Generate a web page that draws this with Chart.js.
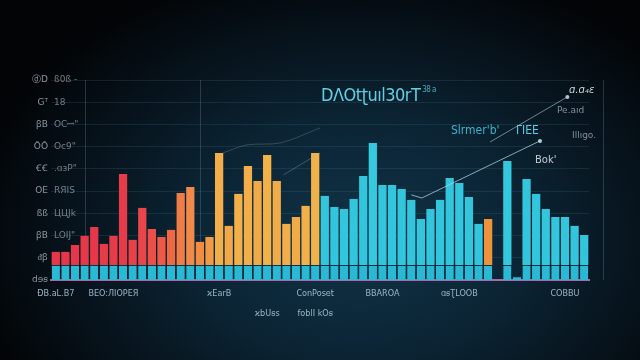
<!DOCTYPE html>
<html>
<head>
<meta charset="utf-8">
<script src="https://cdn.jsdelivr.net/npm/chart.js@4"></script>
<style>
  html,body{margin:0;padding:0;}
  body{width:640px;height:360px;overflow:hidden;
    background:radial-gradient(ellipse 62% 78% at 56% 66%, #103448 0%, #0b2434 42%, #07131c 72%, #020406 100%);
    font-family:"DejaVu Sans", sans-serif;}
  #wrap{position:relative;width:640px;height:360px;}
  canvas{position:absolute;left:0;top:0;}
  .t{position:absolute;white-space:nowrap;line-height:1;}
</style>
</head>
<body>
<div id="wrap">
  <canvas id="c" width="640" height="360"></canvas>
  <div class="t" style="left:321px;top:86px;font-family:'DejaVu Sans Condensed';font-size:18px;color:#63cfe2;letter-spacing:-0.5px;">DΛOtʈuıl30rT<span style="font-size:8px;vertical-align:top;color:#4aa8bb;"> 38 a</span></div>
  <div class="t" style="left:451px;top:124px;font-size:12px;color:#3ab4cf;font-family:'DejaVu Sans Condensed';">Slrmer'b'</div>
  <div class="t" style="left:516px;top:124px;font-size:12px;color:#5ccde6;font-family:'DejaVu Sans Condensed';">ΓIEE</div>
  <div class="t" style="left:569px;top:85px;font-size:10px;color:#c9d2d9;font-style:italic;">ɑ.ɑ₄ɛ</div>
  <div class="t" style="left:557px;top:106px;font-size:9px;color:#7f909c;">Pe.aıd</div>
  <div class="t" style="left:572px;top:131px;font-size:9px;color:#7f909c;">Illıgo.</div>
  <div class="t" style="left:535px;top:155px;font-size:10px;color:#c3ccd3;">Bok'</div>
</div>
<script>
// ---- data ----
const categories = [
  'ÐB.aL.B7','','','','','','BEO:ЛIOPEЯ','','','',
  '','','','','','','','ϰEarB','','',
  '','','','','','','','ConPoset','','',
  '','','','','BBAROA','','','','','',
  '','','ɑꞩƮLOOB','','','','','','','',
  '','','','COBBU','',''
];
const secondRowLabels = ['', '', '', '', '', '', '', '', '', '',
  '', '', '', '', '', '', '', '', '', '',
  '', '', 'ϰbUꞩs', '', '', '', '', 'foblI kOꞩ', '', '',
  '', '', '', '', '', '', '', '', '', '',
  '', '', '', '', '', '', '', '', '', '',
  '', '', '', '', '', ''];
const baseValues = [
  6.75,6.75,6.75,6.75,6.75,6.75,6.75,6.75,6.75,6.75,
  6.75,6.75,6.75,6.75,6.75,6.75,6.75,6.75,6.75,6.75,
  6.75,6.75,6.75,6.75,6.75,6.75,6.75,6.75,6.75,6.75,
  6.75,6.75,6.75,6.75,6.75,6.75,6.75,6.75,6.75,6.75,
  6.75,6.75,6.75,6.75,6.75,6.75,0,6.75,1.7,6.75,
  6.75,6.75,6.75,6.75,6.75,6.75
];
const topValues = [
  5.9,5.9,9.0,13.1,17.1,9.5,13.1,41.0,11.3,25.7,
  16.2,12.6,15.8,32.4,35.1,10.4,12.6,50.4,17.6,32.0,
  44.6,37.8,49.5,37.8,18.5,21.6,26.6,50.4,31.1,26.1,
  25.2,29.7,40.1,54.9,36.0,36.0,34.2,29.3,20.7,25.2,
  29.3,39.2,36.9,30.6,18.5,20.7,0,46.8,0,38.7,
  32.0,25.2,21.6,21.6,17.6,13.5
];
const leftTickLabels = ['dɘꞩ','ʆꞩ','ᵭꞵ','ꞅꞅ','ꞵB','ʊö','ßß','ꞵE','OE','ʘʘ','ꞒꞒ','ꞥꞩ','ŌŌ','ꞵ̈ö','ꞵB','ꟻꟷ','Gᵀ','ʝeꞩ','ⓓD','ЕBß'];
const innerTickLabels = ['','','LOIJ"','ЦЦJk','RЯIS','.ɑɜP"','Oc9"','OCꟷ"','18','ß0ß -'];
const trendA = [{x:37.0,y:38.3},{x:38.1,y:36.9},{x:50.4,y:62.6}];
const trendB = [{x:45.2,y:62.1},{x:53.25,y:82.4}];
const trendC = [{x:17.4,y:57.2},{x:19.9,y:60.8},{x:23.4,y:61.7},{x:27.5,y:68.4}];
const trendD = [{x:23.7,y:47.3},{x:27.5,y:57.2}];

// ---- styles ----
const topColors = [
  '#e6374a','#e6374a','#e6374a','#e6384a','#e6384a','#e63c4a','#e63c4a','#e63c4a','#e7414a','#e8464a',
  '#ea4f48','#ec5a46','#ee6844','#f07c46','#f08a48','#f28c42','#f09a46','#f2ae4a','#f0a848','#f2b04a',
  '#f2ae4a','#f0aa48','#f2b24a','#f0ac48','#f2ae4a','#f0aa48','#f2b04a','#f2b24a','#33c5dc','#33c5dc',
  '#33c5dc','#33c5dc','#33c5dc','#35c8de','#33c5dc','#33c5dc','#33c5dc','#33c5dc','#33c5dc','#33c5dc',
  '#33c5dc','#33c5dc','#33c5dc','#33c5dc','#33c5dc','#f0923c','#33c5dc','#33c8de','#33c5dc','#33c5dc',
  '#33c5dc','#33c5dc','#33c5dc','#33c5dc','#33c5dc','#33c5dc'
];

const decoLines = {
  id:'decoLines',
  beforeDatasetsDraw(chart){
    const {ctx, chartArea} = chart;
    const xl = chart.scales.xl;
    ctx.save();
    ctx.strokeStyle = 'rgba(110,160,185,0.28)';
    ctx.lineWidth = 1;
    [3.0, 15.0, 57.0].forEach(v => {
      const px = Math.round(xl.getPixelForValue(v)) + 0.5;
      ctx.beginPath(); ctx.moveTo(px, chartArea.top); ctx.lineTo(px, chartArea.bottom); ctx.stroke();
    });
    ctx.restore();
  }
};

const barCommon = {type:'bar', barPercentage:0.86, categoryPercentage:1, grouped:false,
                   yAxisID:'y', xAxisID:'x', stack:'s', order:2};

new Chart(document.getElementById('c'), {
  data: {
    labels: categories.map((c,i) => secondRowLabels[i] ? [c, secondRowLabels[i]] : c),
    datasets: [
      Object.assign({}, barCommon, {data: baseValues, backgroundColor:'#2ab9d5', borderColor:'#0d3442',
       borderWidth:{top:1,left:0,right:0,bottom:0}, borderSkipped:false}),
      Object.assign({}, barCommon, {data: topValues, backgroundColor: topColors, borderWidth:0}),
      {type:'line', data: trendA, xAxisID:'xl', yAxisID:'y', stack:'a', borderColor:'rgba(175,215,232,0.75)', borderWidth:1,
       pointRadius:[0,0,2], pointBackgroundColor:'rgba(190,225,240,0.9)', pointBorderWidth:0, tension:0, order:1},
      {type:'line', data: trendB, xAxisID:'xl', yAxisID:'y', stack:'b', borderColor:'rgba(175,205,220,0.6)', borderWidth:1,
       pointRadius:[0,2], pointBackgroundColor:'rgba(190,215,230,0.9)', pointBorderWidth:0, tension:0, order:1},
      {type:'line', data: trendC, xAxisID:'xl', yAxisID:'y', stack:'c', borderColor:'rgba(150,165,175,0.3)', borderWidth:1,
       pointRadius:0, tension:0.3, order:1},
      {type:'line', data: trendD, xAxisID:'xl', yAxisID:'y', stack:'d', borderColor:'rgba(160,180,190,0.35)', borderWidth:1,
       pointRadius:0, tension:0, order:1}
    ]
  },
  options: {
    responsive:false, animation:false,
    layout:{padding:{top:80, right:51, left:0, bottom:0}},
    plugins:{legend:{display:false}, tooltip:{enabled:false}},
    scales:{
      x:{type:'category', stacked:true, offset:true,
         grid:{display:false}, border:{display:true, color:'rgba(190,120,190,0.85)', width:2},
         ticks:{autoSkip:false, maxRotation:0, minRotation:0, padding:-4,
                color:'rgba(170,195,210,0.9)', font:{family:'DejaVu Sans Condensed', size:9, lineHeight:2.2}},
         afterFit:(s)=>{ s.height = 80; }},
      xl:{type:'linear', min:-0.5, max:55.5, display:false},
      y:{type:'linear', stacked:true, min:0, max:90, position:'left', weight:1,
         grid:{display:false, drawTicks:false}, border:{display:false},
         ticks:{stepSize:5, padding:3, color:'rgba(180,195,205,0.75)', font:{family:'DejaVu Sans', size:9},
                callback:(v)=> leftTickLabels[Math.round(v/5)] ?? ''},
         afterFit:(s)=>{ s.width = 51; }},
      y2:{type:'linear', min:0, max:90, position:'left', weight:0,
          grid:{display:true, drawTicks:false, color:'rgba(90,150,180,0.16)'}, border:{display:false},
          ticks:{stepSize:10, mirror:true, padding:3, color:'rgba(170,185,195,0.65)', font:{family:'DejaVu Sans', size:9},
                 callback:(v)=> innerTickLabels[Math.round(v/10)] ?? ''},
          afterFit:(s)=>{ s.width = 0; }}
    }
  },
  plugins:[decoLines]
});
</script>
</body>
</html>
